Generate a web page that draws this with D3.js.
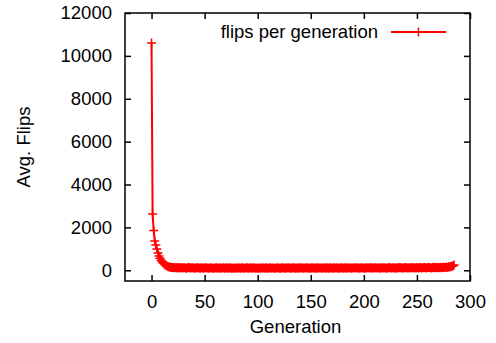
<!DOCTYPE html>
<html>
<head>
<meta charset="utf-8">
<script src="https://cdn.jsdelivr.net/npm/d3@7"></script>
<style>
    body { margin: 0; background: #fff; }
    svg text { font-family: "Liberation Sans", Arial, sans-serif; font-size: 18.5px; fill: #000; }
</style>
</head>
<body>
<div id="chart"></div>
<script>
// Average flips for each generation (generation = index)
const flips = [
    10600, 2620, 1860, 1370, 1180, 990, 810, 670, 560, 470, 400, 340, 290, 250, 215, 190, 170, 155, 145, 135,
    128, 122, 118, 131, 112, 125, 109, 119, 127, 104, 115, 121, 110, 98, 117, 124, 106, 113, 101, 119,
    108, 96, 122, 114, 103, 111, 99, 118, 107, 95, 113, 120, 102, 109, 97, 116, 105, 111, 94, 112,
    103, 118, 99, 107, 115, 96, 110, 101, 121, 98, 106, 113, 94, 109, 117, 100, 104, 97, 112, 108,
    95, 114, 102, 110, 99, 119, 105, 93, 111, 103, 116, 98, 107, 101, 113, 96, 109, 120, 100, 106,
    97, 112, 104, 95, 118, 101, 108, 99, 114, 92, 110, 103, 117, 98, 105, 111, 94, 108, 102, 119,
    100, 107, 96, 115, 104, 110, 98, 113, 101, 106, 120, 95, 109, 102, 116, 99, 111, 105, 97, 114,
    103, 108, 118, 96, 110, 101, 115, 99, 107, 112, 94, 117, 104, 109, 100, 113, 97, 121, 106, 102,
    111, 98, 116, 105, 100, 119, 108, 96, 114, 103, 110, 99, 122, 107, 101, 115, 97, 112, 104, 118,
    100, 109, 113, 98, 117, 106, 102, 120, 95, 111, 108, 116, 101, 105, 123, 99, 112, 107, 118, 103,
    110, 97, 119, 106, 114, 101, 108, 124, 99, 113, 105, 117, 102, 111, 121, 98, 109, 115, 104, 120,
    107, 112, 100, 118, 126, 103, 110, 116, 105, 122, 99, 114, 108, 119, 127, 104, 111, 117, 106, 124,
    113, 109, 121, 102, 118, 128, 107, 115, 120, 111, 125, 105, 117, 131, 110, 122, 114, 127, 119, 108,
    124, 133, 116, 121, 112, 129, 138, 118, 126, 115, 135, 123, 141, 119, 130, 146, 127, 138, 152, 134,
    160, 148, 172, 185, 210, 245
];
const xTicks = [0, 50, 100, 150, 200, 250, 300];
const yTicks = [0, 2000, 4000, 6000, 8000, 10000, 12000];
const xDomain = [-25, 300];
const yDomain = [-500, 12000];
const seriesName = "flips per generation";

const width = 496, height = 343;
const margin = { top: 13, right: 26, bottom: 62, left: 125 };
const innerW = width - margin.left - margin.right;
const innerH = height - margin.top - margin.bottom;
const red = "#ff0000";

const svg = d3.select("#chart").append("svg")
    .attr("width", width)
    .attr("height", height);

const g = svg.append("g").attr("transform", `translate(${margin.left},${margin.top})`);

const x = d3.scaleLinear().domain(xDomain).range([0, innerW]);
const y = d3.scaleLinear().domain(yDomain).range([innerH, 0]);
const fmt = d3.format("d");

// inward ticks on all four sides (gnuplot style)
const tick = 6;
g.append("g").attr("transform", `translate(0,${innerH})`)
    .call(d3.axisBottom(x).tickValues(xTicks).tickFormat(fmt).tickSize(-tick).tickPadding(14));
g.append("g")
    .call(d3.axisTop(x).tickValues(xTicks).tickSize(-tick).tickFormat(""));
g.append("g")
    .call(d3.axisLeft(y).tickValues(yTicks).tickFormat(fmt).tickSize(-tick).tickPadding(13));
g.append("g").attr("transform", `translate(${innerW},0)`)
    .call(d3.axisRight(y).tickValues(yTicks).tickSize(-tick).tickFormat(""));

g.selectAll(".domain").remove();
g.selectAll(".tick line").attr("stroke", "#000").attr("stroke-width", 1.5);
g.selectAll(".tick text").style("font-size", "18.5px");

g.append("rect")
    .attr("width", innerW).attr("height", innerH)
    .attr("fill", "none").attr("stroke", "#000").attr("stroke-width", 1.5);

// series line + "+" markers
const data = flips.map((v, i) => [i, v]);
const line = d3.line().x(d => x(d[0])).y(d => y(d[1]));
g.append("path")
    .datum(data)
    .attr("fill", "none")
    .attr("stroke", red)
    .attr("stroke-width", 2)
    .attr("d", line);

const ps = 4.5;
const plus = (px, py) => `M${px - ps},${py}H${px + ps}M${px},${py - ps}V${py + ps}`;
g.append("path")
    .attr("fill", "none")
    .attr("stroke", red)
    .attr("stroke-width", 1.5)
    .attr("d", data.map(d => plus(x(d[0]), y(d[1]))).join(""));

// legend
const lg = svg.append("g");
lg.append("text").attr("x", 378).attr("y", 38).attr("text-anchor", "end").text(seriesName);
lg.append("line").attr("x1", 391).attr("x2", 446).attr("y1", 32).attr("y2", 32)
    .attr("stroke", red).attr("stroke-width", 2);
lg.append("path").attr("d", plus(418.5, 32)).attr("stroke", red).attr("stroke-width", 1.5);

// axis titles
svg.append("text")
    .attr("x", margin.left + innerW / 2 - 2).attr("y", 333)
    .attr("text-anchor", "middle").text("Generation");
svg.append("text")
    .attr("transform", `translate(30,${margin.top + innerH / 2}) rotate(-90)`)
    .attr("text-anchor", "middle").text("Avg. Flips");
</script>
</body>
</html>
